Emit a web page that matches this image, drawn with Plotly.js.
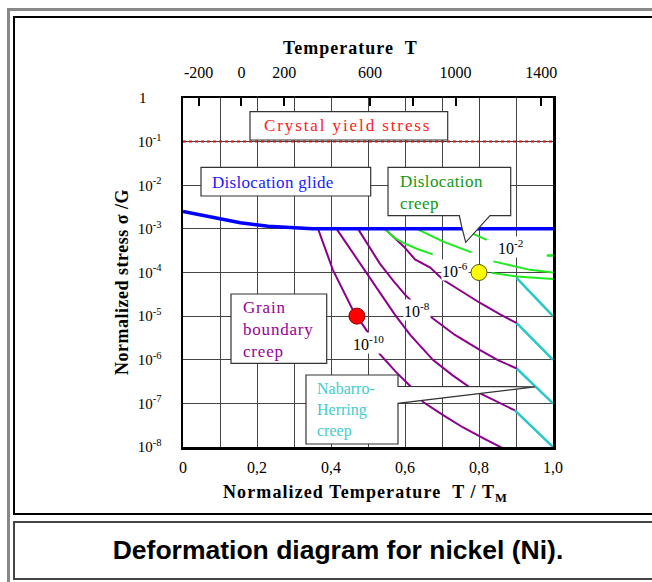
<!DOCTYPE html>
<html><head><meta charset="utf-8">
<script src="https://cdn.plot.ly/plotly-3.0.1.min.js"></script>
<style>
html,body{margin:0;padding:0;background:#fff;width:652px;height:582px;overflow:hidden;}
#outer{position:absolute;left:7px;top:8px;width:700px;height:600px;border-left:3px solid #888;border-top:3px solid #888;}
#inner{position:absolute;left:13px;top:16px;width:646px;height:495px;border:2px solid #000;}
#cap{position:absolute;left:13px;top:521px;width:646px;height:55px;border:2px solid #444;font-family:'Liberation Sans',Arial,sans-serif;font-weight:bold;font-size:26.5px;text-align:center;line-height:55px;color:#000;}
#plot{position:absolute;left:0;top:0;width:652px;height:582px;}
.annotation[data-index="0"] .annotation-text{letter-spacing:1.9px;}
.annotation[data-index="1"] .annotation-text{letter-spacing:0.3px;}
.annotation[data-index="2"] .annotation-text{letter-spacing:0.4px;}
.annotation[data-index="3"] .annotation-text{letter-spacing:0.8px;}
.annotation[data-index="9"] .annotation-text{letter-spacing:1px;}
.annotation[data-index="10"] .annotation-text{letter-spacing:1.1px;}
.annotation[data-index="11"] .annotation-text{letter-spacing:0.5px;}
</style></head><body>
<div id="outer"></div><div id="inner"></div><div id="cap">Deformation diagram for nickel (Ni).</div>
<div id="plot"></div>
<script>
// ---- axis ticks ----
const xTickVals = [0,0.1,0.2,0.3,0.4,0.5,0.6,0.7,0.8,0.9,1.0];
const xTickText = ['0','','0,2','','0,4','','0,6','','0,8','','1,0'];
const yTickVals = [1,1e-1,1e-2,1e-3,1e-4,1e-5,1e-6,1e-7,1e-8];
const yTickText = ['1\u00a0\u00a0\u00a0\u00a0','10<sup>-1</sup>','10<sup>-2</sup>','10<sup>-3</sup>','10<sup>-4</sup>','10<sup>-5</sup>','10<sup>-6</sup>','10<sup>-7</sup>','10<sup>-8</sup>'];
const tempTickVals = [-200,0,200,600,800,1000,1400];
const tempTickText = ['-200','0','200','600','','1000','1400'];
const tempRange = [-273,1455];   // T/TM = 0 .. 1 for nickel (TM = 1728 K)

// ---- boundary lines ----
const yieldX = [0,1];
const yieldS = [0.1,0.1];
const glideX = [0,0.155,0.23,0.35,1.0];
const glideS = [2.5e-3,1.38e-3,1.15e-3,1.0e-3,1.0e-3];

// ---- grain boundary creep contours (purple) ----
const gb1X = [0.365,0.405,0.459,0.497,0.532,0.576,0.614,0.649,0.703,0.757,0.811,0.865];
const gb1S = [1.0e-3,1.15e-4,1.38e-5,4.6e-6,1.35e-6,5.2e-7,2.5e-7,1.07e-7,5.4e-8,2.8e-8,1.6e-8,9.3e-9];
const gb2X = [0.415,0.457,0.5,0.541,0.573,0.614,0.676,0.727,0.776,0.803,0.851,0.897];
const gb2S = [1.0e-3,3.0e-4,8.9e-5,2.6e-5,1.07e-5,3.7e-6,9.8e-7,4.5e-7,2.3e-7,1.7e-7,1.07e-7,6.9e-8];
const gb3X = [0.473,0.5,0.532,0.568,0.6,0.635,0.673,0.735,0.803,0.851,0.902];
const gb3S = [1.0e-3,4.4e-4,1.6e-4,6.5e-5,3.1e-5,1.6e-5,9.1e-6,3.7e-6,1.66e-6,9.8e-7,6.3e-7];
const gb4X = [0.546,0.573,0.597,0.627,0.668,0.703,0.749,0.803,0.857,0.902];
const gb4S = [1.0e-3,5.9e-4,3.9e-4,2.0e-4,1.3e-4,6.8e-5,3.8e-5,2.0e-5,1.1e-5,6.9e-6];

// ---- Nabarro-Herring creep contours (cyan) ----
const nh1X = [0.902,1.0]; const nh1S = [7.4e-5,1.0e-5];
const nh2X = [0.902,1.0]; const nh2S = [6.9e-6,1.0e-6];
const nh3X = [0.902,1.0]; const nh3S = [6.3e-7,1.0e-7];
const nh4X = [0.897,1.0]; const nh4S = [6.9e-8,1.0e-8];

// ---- dislocation creep contours (green) ----
const dc1X = [0.546,0.568,0.597,0.632,0.675]; const dc1S = [1.0e-3,6.5e-4,4.7e-4,3.5e-4,2.6e-4];
const dc2X = [0.632,0.703,0.780]; const dc2S = [1.0e-3,5.1e-4,2.9e-4];
const dc3X = [0.753,0.821]; const dc3S = [1.0e-3,5.6e-4];
const dc4X = [0.839,0.938,1.0]; const dc4S = [1.8e-4,1.15e-4,1.0e-4];
const dc5X = [0.834,0.902,1.0]; const dc5S = [9.8e-5,8.1e-5,7.1e-5];
const dc6X = [0.983,1.0]; const dc6S = [2.45e-4,2.45e-4];

// ---- marked points ----
const redX = [0.47]; const redS = [1e-5];
const yelX = [0.8]; const yelS = [1e-4];

const PURPLE = 'rgb(140,0,140)', CYAN = 'rgb(40,200,200)', GREEN = 'rgb(30,235,30)';
function ln(x, y, color, w, dash){
  return {x:x, y:y, type:'scatter', mode:'lines', line:{color:color, width:w, dash:dash||'solid'}, hoverinfo:'skip', showlegend:false};
}
const traces = [
  ln(gb1X,gb1S,PURPLE,2), ln(gb2X,gb2S,PURPLE,2), ln(gb3X,gb3S,PURPLE,2), ln(gb4X,gb4S,PURPLE,2),
  ln(nh1X,nh1S,CYAN,2.5), ln(nh2X,nh2S,CYAN,2.5), ln(nh3X,nh3S,CYAN,2.5), ln(nh4X,nh4S,CYAN,2.5),
  ln(dc1X,dc1S,GREEN,2), ln(dc2X,dc2S,GREEN,2), ln(dc3X,dc3S,GREEN,2), ln(dc4X,dc4S,GREEN,2), ln(dc5X,dc5S,GREEN,2), ln(dc6X,dc6S,GREEN,2.5),
  ln(yieldX,yieldS,'#ff0000',2,'dot'),
  ln(glideX,glideS,'#0000ff',3.5),
  {x:redX, y:redS, type:'scatter', mode:'markers', marker:{color:'#ff0000', size:16, line:{color:'#800000', width:1}}, hoverinfo:'skip', showlegend:false},
  {x:yelX, y:yelS, type:'scatter', mode:'markers', marker:{color:'#ffff00', size:16, line:{color:'#555500', width:1}}, hoverinfo:'skip', showlegend:false},
  // carrier for the top temperature axis (draws nothing)
  {x:tempRange, y:[null,null], xaxis:'x2', yaxis:'y', type:'scatter', mode:'lines', hoverinfo:'skip', showlegend:false}
];

// plot area in pixels: x 183..553, y 98..447
const L=183, R=553, T=98, B=447;
const px = v => (v-L)/(R-L);
const py = v => (B-v)/(B-T);
function rect(x0,y0,x1,y1){
  return {type:'rect', xref:'paper', yref:'paper', x0:px(x0), x1:px(x1), y0:py(y1), y1:py(y0),
          fillcolor:'white', line:{color:'#333', width:1.2}, layer:'above'};
}
function path(pts){
  const d = 'M' + pts.map(p => px(p[0]).toFixed(4)+','+py(p[1]).toFixed(4)).join('L') + 'Z';
  return {type:'path', xref:'paper', yref:'paper', path:d, fillcolor:'white', line:{color:'#333', width:1.2}, layer:'above'};
}
const shapes = [
  rect(250,111.7,447.7,140),
  rect(201,167.3,370.7,196),
  path([[388,167.3],[510.7,167.3],[510.7,215.7],[490,215.7],[465.7,242.3],[461.7,226.7],[459.3,215.7],[388,215.7]]),
  rect(231,294,326.7,363.3),
  path([[306,375],[398,375],[398,386.3],[535,386.8],[398,403.3],[398,444],[306,444]])
];
const SERIF = 'Liberation Serif, Times New Roman, serif';
function txt(x,y,t,color,size,anchor,extra){
  return Object.assign({xref:'paper', yref:'paper', x:px(x), y:py(y), text:t, showarrow:false,
    xanchor:anchor||'center', yanchor:'middle', align:'left', font:{family:SERIF, size:size||15, color:color}}, extra||{});
}
const annotations = [
  txt(262,126,'Crystal yield stress','#ff1a1a',17,'left'),
  txt(210,182,'Dislocation glide','#1a1aff',17,'left'),
  txt(398,192,'Dislocation<br>creep','#109910',17,'left'),
  txt(241,329,'Grain<br>boundary<br>creep','#990099',17,'left'),
  txt(315,409.5,'Nabarro-<br>Herring<br>creep','#44cccc',16,'left'),
  txt(510,246.7,'10<sup>-2</sup>','#000',16,'center',{bgcolor:'white',borderpad:0}),
  txt(455,270,'10<sup>-6</sup>','#000',16,'center',{bgcolor:'white',borderpad:0}),
  txt(416.7,310,'10<sup>-8</sup>','#000',16,'center',{bgcolor:'white',borderpad:0}),
  txt(368.3,343.3,'10<sup>-10</sup>','#000',16,'center',{bgcolor:'white',borderpad:0}),
  txt(281,48,'<b>Temperature  T</b>','#000',18,'left'),
  txt(221,493,'<b>Normalized Temperature  T / T<sub>M</sub></b>','#000',18,'left'),
  txt(122,288,'<b>Normalized stress σ /G</b>','#000',18,'center',{textangle:-90})
];

const layout = {
  width:652, height:582,
  margin:{l:L, r:652-R, t:T, b:582-B},
  paper_bgcolor:'rgba(0,0,0,0)', plot_bgcolor:'white',
  showlegend:false,
  font:{family:SERIF, size:15, color:'#000'},
  xaxis:{range:[0,1], tickvals:xTickVals, ticktext:xTickText, ticks:'', showgrid:true, gridcolor:'#444', gridwidth:1,
         showline:true, linecolor:'#000', linewidth:2.5, mirror:true, zeroline:false, ticklabelstandoff:4,
         tickfont:{family:SERIF, size:16}},
  xaxis2:{overlaying:'x', anchor:'y', side:'top', range:tempRange, tickvals:tempTickVals, ticktext:tempTickText,
          ticks:'inside', ticklen:8, tickwidth:2, tickcolor:'#000', showgrid:false, zeroline:false, showline:false,
          ticklabelstandoff:16, tickfont:{family:SERIF, size:16}},
  yaxis:{type:'log', range:[-8,0], tickvals:yTickVals, ticktext:yTickText, ticks:'', showgrid:true, gridcolor:'#444', gridwidth:1,
         showline:true, linecolor:'#000', linewidth:2.5, mirror:true, zeroline:false, ticklabelstandoff:16,
         tickfont:{family:SERIF, size:15}},
  shapes:shapes,
  annotations:annotations
};
Plotly.newPlot('plot', traces, layout, {staticPlot:true, displayModeBar:false});
</script></body></html>
